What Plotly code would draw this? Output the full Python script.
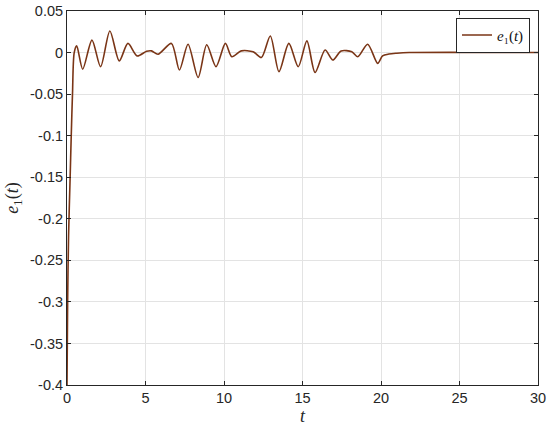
import plotly.graph_objects as go

# values (extrema and a few in-between points)
t = [0, 0.04, 0.1, 0.2, 0.27, 0.35, 0.46, 0.62, 1.0, 1.59, 2.14, 2.73, 3.33, 3.88,
     4.47, 5.07, 5.38, 5.8, 6.65, 7.16, 7.71, 8.35, 8.9, 9.49, 10.09, 10.5, 11.1,
     11.85, 12.38, 12.95, 13.5, 14.13, 14.73, 15.28, 15.8, 16.44, 16.93, 17.46,
     18.14, 18.52, 19.15, 19.79, 20.1, 20.5, 21.0, 21.8, 30]
e1 = [-0.4, -0.3, -0.22, -0.15, -0.1, -0.05, 0, 0.008, -0.02, 0.015, -0.017, 0.026,
      -0.010, 0.011, -0.004, 0.0015, 0.002, -0.002, 0.011, -0.021, 0.010, -0.030,
      0.0094, -0.017, 0.011, -0.005, 0.002, 0.001, -0.006, 0.020, -0.023, 0.011,
      -0.017, 0.014, -0.024, 0.003, -0.009, 0.002, 0.001, -0.005, 0.010, -0.013,
      -0.004, -0.0018, -0.0008, 0, 0]

xticks = [0, 5, 10, 15, 20, 25, 30]
yticks = [0.05, 0, -0.05, -0.1, -0.15, -0.2, -0.25, -0.3, -0.35, -0.4]
yticktext = ["0.05", "0", "-0.05", "-0.1", "-0.15", "-0.2", "-0.25", "-0.3", "-0.35", "-0.4"]

line_col = "#7a3516"
ink = "#262626"

fig = go.Figure()
fig.add_trace(go.Scatter(
    x=t, y=e1, mode="lines",
    line=dict(color=line_col, width=1.6, shape="spline", smoothing=0.8),
    name="<i>e</i>₁(<i>t</i>)",
))

axis_common = dict(
    showline=True, linecolor=ink, linewidth=1, mirror="ticks",
    ticks="inside", ticklen=4, tickcolor=ink,
    showgrid=True, gridcolor="#e3e3e3", gridwidth=1, zeroline=False,
    tickfont=dict(family="Liberation Sans, Arial", size=14.5, color=ink),
    automargin=False,
)

fig.update_xaxes(range=[0, 30], tickvals=xticks, **axis_common,
                 title=dict(text="<i>t</i>", standoff=2,
                            font=dict(family="Liberation Serif", size=18, color=ink)))
fig.update_yaxes(range=[-0.4, 0.05], tickvals=yticks, ticktext=yticktext, **axis_common,
                 title=dict(text="<i>e</i><sub>1</sub>(<i>t</i>)", standoff=6,
                            font=dict(family="Liberation Serif", size=18, color=ink)))

fig.update_layout(
    width=550, height=428,
    margin=dict(l=67, r=12, t=11, b=43),
    plot_bgcolor="white", paper_bgcolor="white",
    showlegend=True,
    legend=dict(x=0.983, y=0.982, xanchor="right", yanchor="top",
                bgcolor="white", bordercolor=ink, borderwidth=1,
                font=dict(family="Liberation Serif", size=15, color="#111111"),
                tracegroupgap=0, itemwidth=30),
)

fig.write_html("out.html", config={"displayModeBar": False},
               post_script="document.body.style.margin='0';")
